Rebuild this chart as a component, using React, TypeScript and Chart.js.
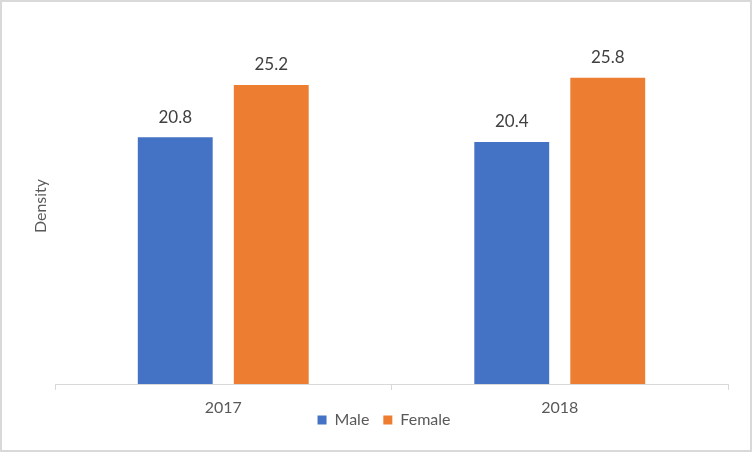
import React, { useEffect, useRef } from "react";
import { Chart, registerables } from "chart.js";

Chart.register(...registerables);

const categories = ["2017", "2018"];
const maleValues = [20.8, 20.4];
const femaleValues = [25.2, 25.8];
const seriesNames = ["Male", "Female"];
const yTitle = "Density";

const FONT = "Lato, 'Open Sans', sans-serif";

const frameAndLabels = {
  id: "frameAndLabels",
  afterLayout(chart: any) {
    const lg = chart.legend;
    if (lg) {
      lg.top -= 16;
      lg.bottom -= 16;
      lg.left += 20;
      lg.right += 20;
    }
  },
  beforeDraw(chart: any) {
    const { ctx, width, height } = chart;
    ctx.save();
    ctx.fillStyle = "#ffffff";
    ctx.fillRect(0, 0, width, height);
    ctx.strokeStyle = "#d9d9d9";
    ctx.lineWidth = 2;
    ctx.strokeRect(1, 1, width - 2, height - 2);
    ctx.restore();
  },
  afterDatasetsDraw(chart: any) {
    const { ctx } = chart;
    ctx.save();
    ctx.fillStyle = "#404040";
    ctx.font = `17px ${FONT}`;
    ctx.textAlign = "center";
    ctx.textBaseline = "middle";
    chart.data.datasets.forEach((ds: any, di: number) => {
      const meta = chart.getDatasetMeta(di);
      meta.data.forEach((bar: any, i: number) => {
        ctx.fillText(String(ds.data[i].toFixed(1)), bar.x, bar.y - 20);
      });
    });
    ctx.restore();
  },
};

export default function App() {
  const ref = useRef<HTMLCanvasElement>(null);
  useEffect(() => {
    document.body.style.margin = "0";
    const chart = new Chart(ref.current!, {
      type: "bar",
      data: {
        labels: categories,
        datasets: [
          {
            label: seriesNames[0],
            data: maleValues,
            backgroundColor: "#4472C4",
            categoryPercentage: 0.5706,
            barPercentage: 0.78,
          },
          {
            label: seriesNames[1],
            data: femaleValues,
            backgroundColor: "#ED7D31",
            categoryPercentage: 0.5706,
            barPercentage: 0.78,
          },
        ],
      },
      options: {
        animation: false,
        responsive: false,
        devicePixelRatio: 1,
        layout: { padding: { left: 0, right: 24, top: 28, bottom: 0 } },
        plugins: {
          legend: {
            position: "bottom",
            maxHeight: 38,
            labels: {
              boxWidth: 9,
              boxHeight: 9,
              padding: 14,
              color: "#595959",
              font: { family: FONT, size: 16 },
            },
          },
          tooltip: { enabled: false },
        },
        scales: {
          x: {
            grid: {
              display: true,
              drawOnChartArea: false,
              drawTicks: true,
              tickLength: 6,
              color: "#d9d9d9",
              offset: true,
            },
            border: { display: true, color: "#d9d9d9", width: 1 },
            ticks: {
              color: "#595959",
              font: { family: FONT, size: 16 },
              padding: 8,
            },
            afterFit: (axis: any) => {
              axis.height = 30;
            },
          },
          y: {
            min: 0,
            max: 30,
            grid: { display: false },
            border: { display: false },
            ticks: { display: false },
            title: {
              display: true,
              text: yTitle,
              color: "#595959",
              font: { family: FONT, size: 16 },
              padding: { top: 31, bottom: 0 },
            },
            afterFit: (axis: any) => {
              axis.width = 55;
            },
          },
        },
      },
      plugins: [frameAndLabels],
    });
    return () => chart.destroy();
  }, []);
  return <canvas ref={ref} width={752} height={452} style={{ display: "block", width: 752, height: 452 }} />;
}
